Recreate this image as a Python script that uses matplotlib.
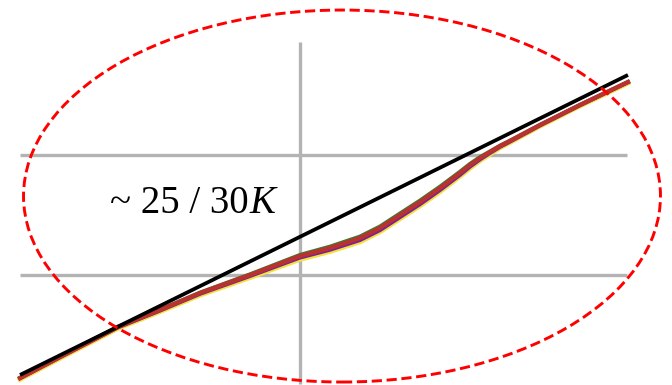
import matplotlib
matplotlib.use("Agg")
import matplotlib.pyplot as plt
from matplotlib.patches import Ellipse

# --------------------------------------------------
# DATA
# --------------------------------------------------

# straight reference line (two end points)
ref_x = [-2.333, 2.733]
ref_y = [0.167, 2.667]

# measured curves, same x samples for all of them
curve_x = [-2.333, -2.0, -1.517, -1.167, -0.833, -0.417, 0.0, 0.25, 0.5, 0.667,
           0.833, 1.0, 1.167, 1.333, 1.417, 1.5, 1.583, 1.667, 1.75, 2.0,
           2.333, 2.733]

yellow_y = [0.130, 0.305, 0.555, 0.694, 0.832, 0.978, 1.130, 1.195, 1.276, 1.360,
            1.468, 1.576, 1.694, 1.822, 1.890, 1.952, 2.006, 2.060, 2.104, 2.240,
            2.408, 2.598]
purple_y = [0.139, 0.314, 0.563, 0.703, 0.843, 0.991, 1.145, 1.210, 1.291, 1.374,
            1.482, 1.590, 1.708, 1.834, 1.903, 1.963, 2.016, 2.068, 2.111, 2.246,
            2.414, 2.606]
green_y = [0.144, 0.319, 0.569, 0.711, 0.854, 1.006, 1.168, 1.237, 1.321, 1.405,
           1.513, 1.621, 1.737, 1.861, 1.927, 1.983, 2.030, 2.078, 2.120, 2.252,
           2.418, 2.609]
red_y = [0.142, 0.317, 0.567, 0.708, 0.850, 1.000, 1.158, 1.225, 1.308, 1.392,
         1.500, 1.608, 1.725, 1.850, 1.917, 1.975, 2.025, 2.075, 2.117, 2.250,
         2.417, 2.608]

grid_levels = [1.0, 2.0]
grid_x_span = [-2.333, 2.725]
vgrid_x = 0.0
vgrid_span = [0.09, 2.94]

label_main = "~ 25 / 30"
label_unit = "K"

# --------------------------------------------------
# PLOT
# --------------------------------------------------

fig = plt.figure(figsize=(6.72, 3.85), dpi=100)
ax = fig.add_axes([0, 0, 1, 1])
ax.set_xlim(-2.5, 3.1)
ax.set_ylim(0.0833, 3.2917)
ax.axis("off")

grid_color = "#b3b3b3"
for lvl in grid_levels:
    ax.plot(grid_x_span, [lvl, lvl], color=grid_color, lw=2.4,
            solid_capstyle="butt", zorder=1)
ax.plot([vgrid_x, vgrid_x], vgrid_span, color=grid_color, lw=2.4,
        solid_capstyle="butt", zorder=1)

ax.plot(curve_x, yellow_y, color="#f2e23a", lw=3.4, zorder=2,
        solid_joinstyle="round")
ax.plot(curve_x, green_y, color="#3f7a30", lw=2.8, zorder=3,
        solid_joinstyle="round")
ax.plot(curve_x, purple_y, color="#7a1f9e", lw=2.8, zorder=3,
        solid_joinstyle="round")
ax.plot(curve_x, red_y, color="#b8322f", lw=3.1, zorder=4,
        solid_joinstyle="round")

ax.plot(ref_x, ref_y, color="black", lw=2.7, zorder=5,
        solid_capstyle="butt")

ell = Ellipse((0.35, 1.658), 5.308, 3.1, fill=False, edgecolor="#ff0000",
              lw=2.1, linestyle=(0, (3.5, 1.6)), zorder=6)
ax.add_patch(ell)

# label: upright part, then italic unit right after it
t = ax.text(-1.583, 1.517, label_main, fontsize=28, family="Liberation Serif",
            va="baseline", ha="left", zorder=7)
fig.canvas.draw()
bb = t.get_window_extent().transformed(ax.transData.inverted())
ax.text(bb.x1 + 0.01, 1.517, label_unit, fontsize=28, family="Liberation Serif",
        style="italic", va="baseline", ha="left", zorder=7)

fig.savefig("out.png", dpi=100)
